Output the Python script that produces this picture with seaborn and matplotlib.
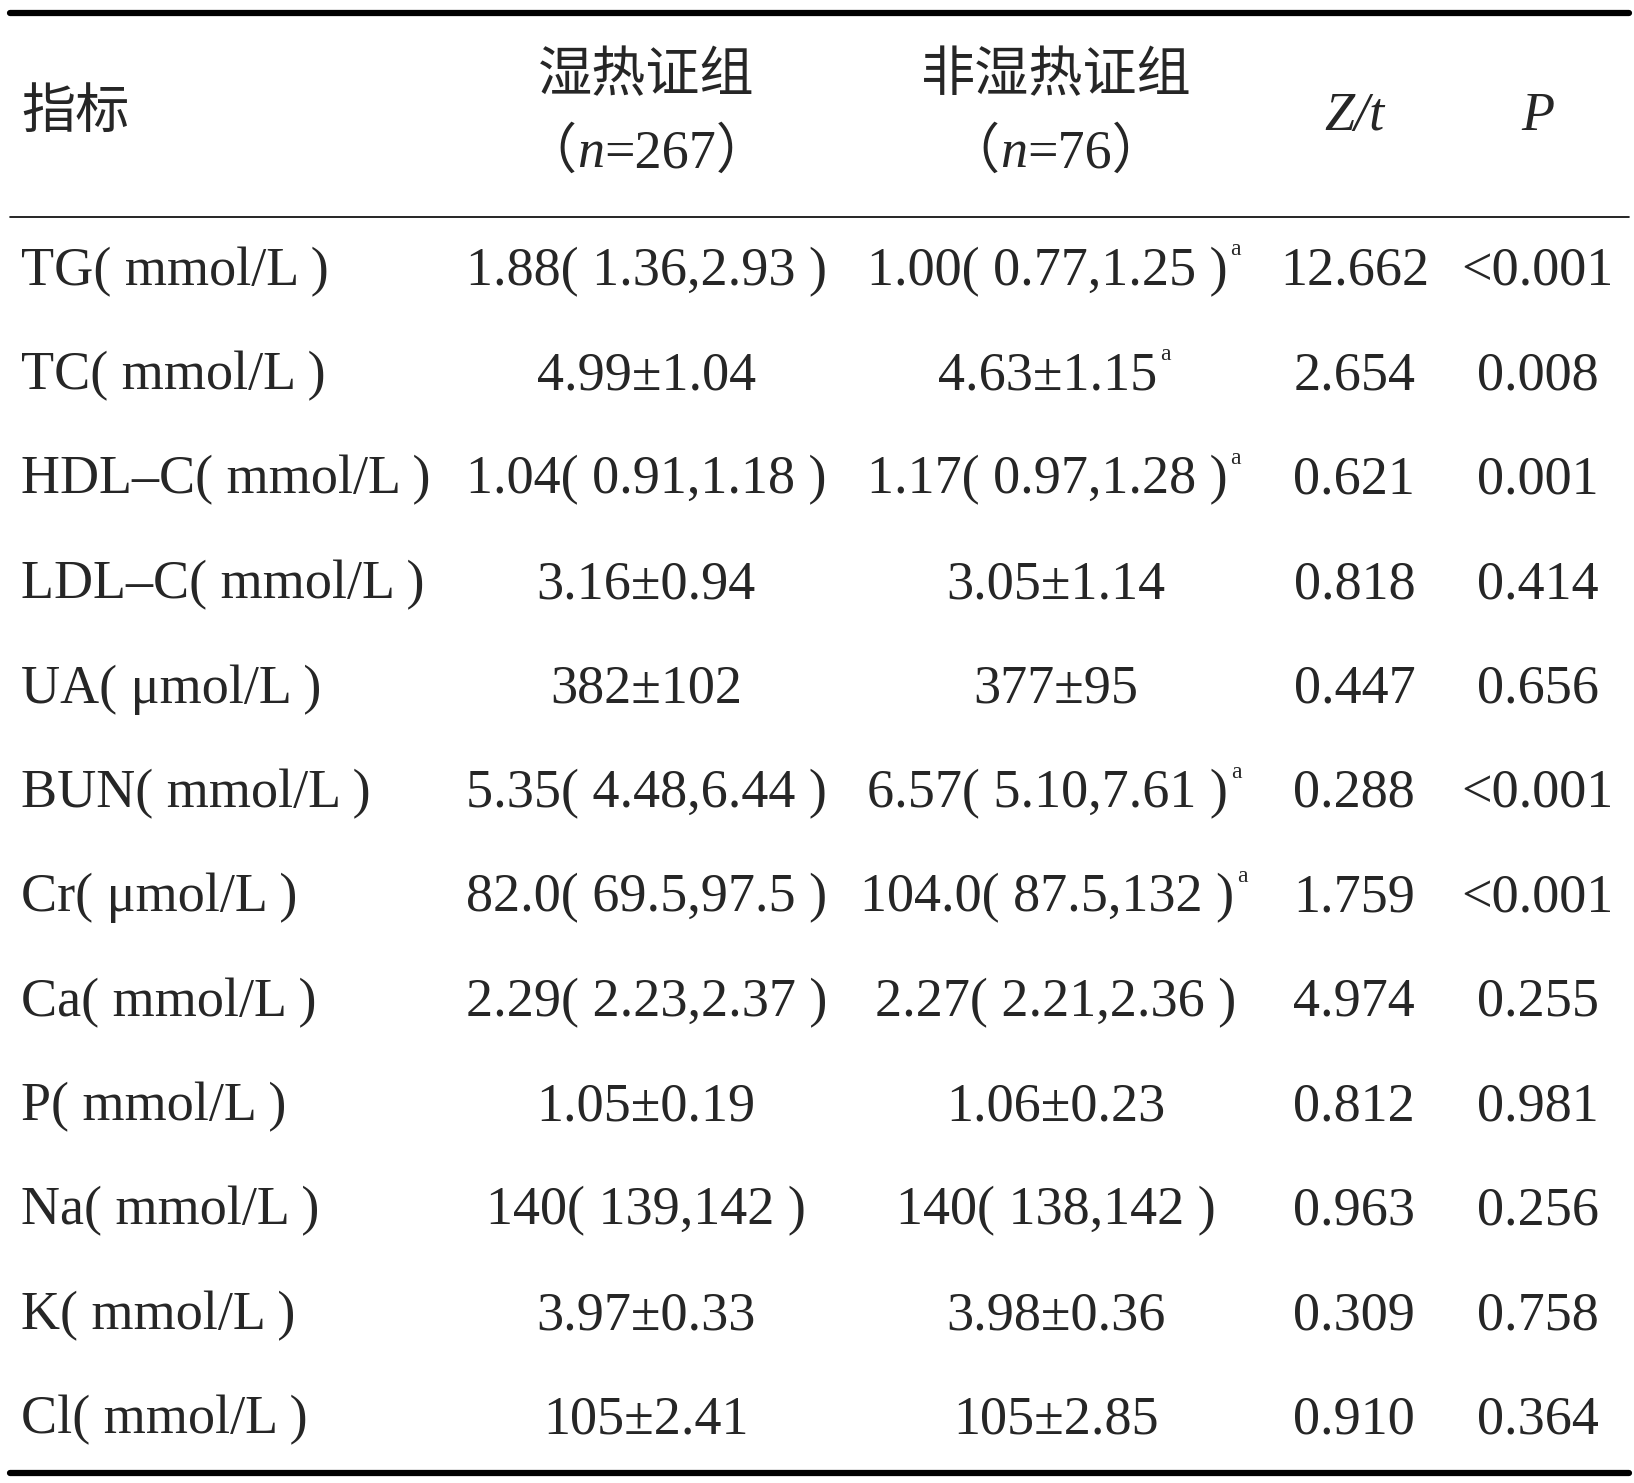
import matplotlib
matplotlib.use("Agg")
import matplotlib.pyplot as plt
import seaborn as sns

sns.set_theme(style="white")
FAM = ['Liberation Serif', 'Noto Sans CJK SC', 'DejaVu Sans']
plt.rcParams['font.family'] = FAM

indicators = ["TG( mmol/L )", "TC( mmol/L )", "HDL–C( mmol/L )", "LDL–C( mmol/L )",
              "UA( μmol/L )", "BUN( mmol/L )", "Cr( μmol/L )", "Ca( mmol/L )",
              "P( mmol/L )", "Na( mmol/L )", "K( mmol/L )", "Cl( mmol/L )"]
group_dh = ["1.88( 1.36,2.93 )", "4.99±1.04", "1.04( 0.91,1.18 )", "3.16±0.94",
            "382±102", "5.35( 4.48,6.44 )", "82.0( 69.5,97.5 )", "2.29( 2.23,2.37 )",
            "1.05±0.19", "140( 139,142 )", "3.97±0.33", "105±2.41"]
group_non = ["1.00( 0.77,1.25 )", "4.63±1.15", "1.17( 0.97,1.28 )", "3.05±1.14",
             "377±95", "6.57( 5.10,7.61 )", "104.0( 87.5,132 )", "2.27( 2.21,2.36 )",
             "1.06±0.23", "140( 138,142 )", "3.98±0.36", "105±2.85"]
non_sup = [True, True, True, False, False, True, True, False, False, False, False, False]
zt_vals = ["12.662", "2.654", "0.621", "0.818", "0.447", "0.288", "1.759", "4.974",
           "0.812", "0.963", "0.309", "0.910"]
p_vals = ["<0.001", "0.008", "0.001", "0.414", "0.656", "<0.001", "<0.001", "0.255",
          "0.981", "0.256", "0.758", "0.364"]

W, H = 1560.0, 1420.0
fig = plt.figure(figsize=(16.34, 14.83), dpi=100)
ax = fig.add_axes([0, 0, 1, 1])
ax.set_xlim(0, W)
ax.set_ylim(H, 0)
ax.axis('off')
FS = 39

ax.plot([10, 1555], [12, 12], color='black', lw=4.5)
ax.plot([10, 1555], [208, 208], color='black', lw=1.2)
ax.plot([10, 1555], [1410, 1410], color='black', lw=4.5)

renderer = fig.canvas.get_renderer()

def pieces(x_center, y, parts):
    arts = []
    for txt, style in parts:
        a = ax.text(0, y, txt, fontsize=FS, style=style, ha='left', va='center',
                    family=FAM)
        arts.append(a)
    widths = []
    for a in arts:
        bb = a.get_window_extent(renderer)
        widths.append(bb.width * W / fig.bbox.width)
    x = x_center - sum(widths) / 2
    for a, w in zip(arts, widths):
        a.set_x(x)
        x += w

ax.text(20, 110, "指标", fontsize=FS, ha='left', va='center')
ax.text(617, 75, "湿热证组", fontsize=FS, ha='center', va='center')
pieces(617, 147, [("（", 'normal'), ("n", 'italic'), ("=267）", 'normal')])
ax.text(1008, 75, "非湿热证组", fontsize=FS, ha='center', va='center')
pieces(1008, 147, [("（", 'normal'), ("n", 'italic'), ("=76）", 'normal')])
ax.text(1293, 112, "Z/t", fontsize=FS, style='italic', ha='center', va='center')
ax.text(1468, 112, "P", fontsize=FS, style='italic', ha='center', va='center')

for i in range(len(indicators)):
    y = 260 + 100 * i
    ax.text(20, y, indicators[i], fontsize=FS, ha='left', va='center')
    ax.text(617, y, group_dh[i], fontsize=FS, ha='center', va='center')
    t = ax.text(1008 - (8 if non_sup[i] else 0), y, group_non[i], fontsize=FS,
                ha='center', va='center')
    if non_sup[i]:
        ax.annotate("a", xy=(1, 0.72), xycoords=t, xytext=(2, 0),
                    textcoords='offset points', fontsize=17, ha='left', va='bottom')
    ax.text(1293, y, zt_vals[i], fontsize=FS, ha='center', va='center')
    ax.text(1468, y, p_vals[i], fontsize=FS, ha='center', va='center')

fig.savefig("out.png", dpi=100)
